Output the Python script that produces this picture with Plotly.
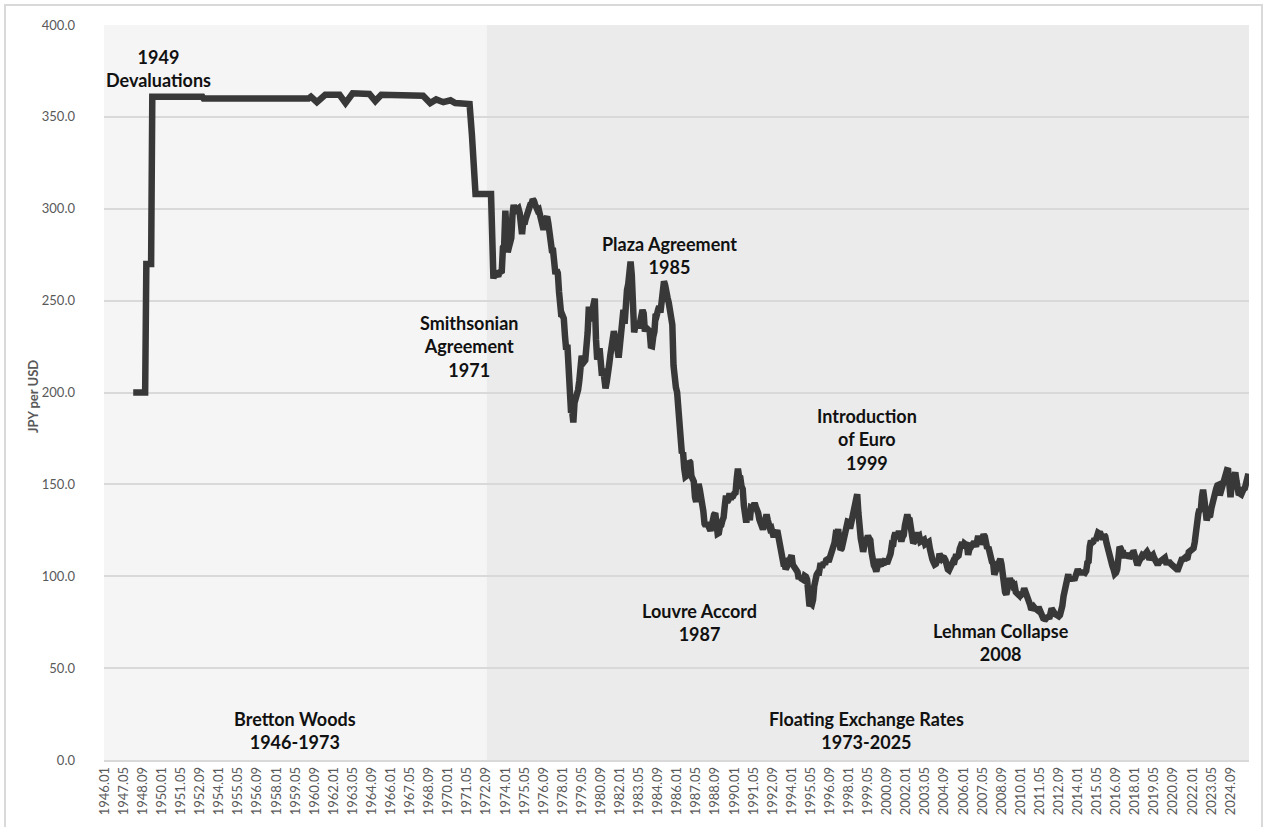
import plotly.graph_objects as go

# ---------------- categories (monthly) ----------------
END_LABEL = "2025.12"
months = []
for yr in range(1946, 2026):
    for mo in range(1, 13):
        months.append(f"{yr}.{mo:02d}")
months = months[: months.index(END_LABEL) + 1]
tick_labels = months[::16]

# ---------------- Bretton Woods era (step points) ----------------
bw_dates = ["1948.01", "1948.11", "1948.12", "1949.04", "1949.05", "1952.11", "1952.12",
            "1960.04", "1960.06", "1960.11", "1961.06", "1962.06", "1962.11", "1963.05",
            "1964.07", "1964.12", "1965.05", "1966.09", "1967.08", "1968.04", "1968.10",
            "1969.03", "1969.09", "1970.03", "1970.07", "1971.06", "1971.07", "1971.09",
            "1971.11", "1971.12", "1973.01"]
bw_values = [200, 200, 270, 270, 361, 361, 360,
             360, 361, 358, 362, 362, 357.5, 362.8,
             362.5, 358.6, 362, 361.5, 362, 361.5, 357.5,
             359.5, 358, 359, 357.5, 356.5, 357, 340,
             320, 308, 308]

# ---------------- Floating era (monthly, from 1973.02) ----------------
fx_1970s = [265, 262, 265.6, 264.4, 264.9, 263.3, 265.3, 265.5, 266.1, 279.0, 280.0,
            299.0, 287.6, 276.3, 279.0, 281.5, 284.1, 297.0, 302.1, 298.6, 299.6, 299.8, 300.2,
            297.8, 286.9, 286.2, 292.9, 291.6, 294.3, 296.6, 297.9, 301.9, 302.3, 302.7, 305.2,
            304.3, 302.2, 299.7, 299.2, 299.6, 297.3, 293.4, 291.9, 288.5, 293.3, 295.7, 295.7,
            292.3, 285.4, 281.2, 277.4, 277.3, 272.0, 264.4, 266.7, 264.9, 254.8, 244.4, 241.2,
            241.9, 240.3, 230.7, 223.3, 226.0, 210.6, 196.6, 190.2, 189.9, 183.7, 194.4, 196.1,
            197.6, 201.5, 206.3, 217.4, 219.9, 218.3, 216.7, 217.5, 223.2, 232.6, 246.7, 238.8]
fx_1980s = [241.9, 244.1, 248.6, 251.1, 228.9, 217.9, 220.0, 224.0, 214.9, 209.2, 213.0, 209.8,
            202.2, 205.7, 208.8, 215.0, 220.2, 224.0, 232.5, 233.4, 229.6, 231.4, 223.5, 219.0,
            225.3, 234.4, 240.9, 245.0, 237.4, 251.3, 255.8, 258.9, 262.7, 271.2, 264.1, 242.5,
            232.7, 236.3, 238.5, 237.6, 235.0, 240.0, 240.5, 244.9, 243.0, 233.2, 235.3, 234.7,
            233.9, 233.4, 225.4, 225.2, 230.3, 233.2, 242.7, 242.2, 244.8, 246.9, 243.5, 247.9,
            254.2, 260.5, 258.4, 251.7, 251.6, 248.9, 241.7, 237.2, 236.9, 214.7, 204.1, 202.8,
            200.1, 184.9, 178.7, 175.1, 167.0, 167.5, 158.6, 154.2, 154.7, 156.5, 162.7, 162.0,
            154.5, 153.5, 151.6, 143.0, 140.5, 144.5, 150.3, 147.3, 143.3, 143.3, 135.4, 128.6,
            127.4, 129.1, 127.2, 124.9, 124.8, 127.5, 133.1, 133.5, 134.4, 129.0, 123.2, 123.6,
            127.2, 127.8, 130.4, 132.0, 138.4, 143.9, 140.4, 141.5, 145.1, 141.9, 143.5, 143.7]
fx_1990s = [145.1, 145.5, 153.2, 158.5, 154.0, 153.7, 149.0, 147.5, 138.4, 129.6, 129.2, 133.9,
            133.7, 130.5, 137.4, 137.1, 138.2, 139.8, 137.8, 136.8, 134.3, 130.8, 129.6, 128.0,
            125.5, 128.0, 132.7, 133.6, 130.6, 126.8, 125.8, 126.2, 122.6, 121.2, 123.9, 123.9,
            125.0, 120.8, 117.0, 112.4, 110.3, 107.4, 107.7, 103.8, 105.1, 106.9, 107.9, 109.9,
            111.4, 106.3, 105.1, 103.5, 103.8, 102.3, 98.6, 99.9, 98.8, 98.4, 98.0, 100.2,
            99.8, 98.2, 90.8, 83.7, 85.1, 84.6, 87.2, 94.7, 100.6, 100.8, 101.9, 101.9,
            105.8, 105.8, 105.9, 107.4, 106.5, 108.8, 109.2, 107.9, 109.9, 112.4, 112.3, 113.9,
            118.2, 123.0, 122.7, 125.6, 119.2, 114.3, 115.1, 117.9, 120.9, 121.1, 125.4, 129.7,
            129.5, 125.9, 129.0, 131.8, 135.0, 140.3, 140.7, 144.7, 134.5, 121.1, 120.5, 117.2,
            113.3, 116.7, 119.5, 119.8, 122.0, 120.7, 119.7, 113.2, 106.9, 105.9, 104.7, 102.6]
fx_2000s = [105.2, 109.4, 106.3, 105.6, 108.3, 106.1, 108.2, 108.1, 106.8, 108.4, 109.0, 112.2,
            116.7, 116.2, 121.5, 123.8, 121.8, 122.3, 124.6, 121.5, 118.9, 121.3, 122.4, 127.6,
            132.7, 133.6, 131.1, 130.8, 126.4, 123.3, 118.0, 119.0, 120.5, 123.9, 121.4, 121.9,
            118.8, 119.3, 118.7, 119.9, 117.4, 118.3, 118.7, 118.7, 114.8, 109.5, 109.2, 107.7,
            106.3, 106.7, 108.5, 107.7, 112.2, 109.4, 109.5, 110.2, 110.0, 108.8, 104.7, 103.8,
            103.3, 104.9, 105.3, 107.4, 106.6, 108.8, 111.9, 110.6, 111.2, 114.9, 118.5, 118.5,
            115.3, 117.8, 117.3, 117.1, 111.7, 114.5, 115.7, 115.9, 117.2, 118.6, 117.3, 117.4,
            120.5, 120.5, 117.3, 118.8, 120.8, 122.6, 121.6, 116.7, 115.0, 115.9, 111.1, 112.4,
            107.8, 107.1, 100.8, 102.7, 104.4, 106.9, 106.9, 109.4, 106.5, 100.0, 96.9, 91.3,
            90.1, 92.9, 97.9, 98.9, 96.7, 96.6, 94.5, 94.9, 91.4, 90.3, 89.3, 89.5]
fx_2010s = [91.1, 90.1, 90.7, 93.4, 91.8, 90.9, 87.6, 85.4, 84.4, 81.8, 82.5, 83.4,
            82.6, 82.5, 81.6, 83.2, 81.2, 80.5, 79.3, 77.1, 76.8, 76.7, 77.5, 77.8,
            76.9, 78.5, 82.4, 81.4, 79.7, 79.3, 79.0, 78.7, 78.2, 78.9, 80.9, 83.9,
            89.1, 93.1, 94.8, 97.7, 101.1, 97.3, 99.7, 97.8, 99.2, 97.8, 100.1, 103.5,
            103.8, 102.1, 102.3, 102.5, 101.8, 102.1, 101.8, 102.9, 107.4, 108.0, 116.2, 119.4,
            118.3, 118.8, 120.4, 119.5, 120.8, 123.7, 123.3, 123.2, 120.1, 120.1, 122.6, 121.6,
            118.2, 115.0, 112.9, 109.6, 108.9, 105.5, 103.7, 101.3, 101.9, 103.8, 108.5, 116.0,
            115.0, 113.0, 112.9, 110.0, 112.3, 110.9, 112.5, 109.8, 110.8, 112.9, 112.8, 112.9,
            110.9, 107.8, 106.0, 107.6, 109.7, 110.1, 111.5, 111.0, 111.9, 112.8, 113.3, 112.1,
            108.9, 110.4, 111.2, 111.6, 109.9, 108.0, 108.3, 106.2, 107.5, 108.2, 108.8, 109.1]
fx_2020s = [109.3, 110.0, 107.6, 107.7, 107.2, 107.5, 106.7, 106.0, 105.6, 105.2, 104.4, 103.8,
            103.8, 105.4, 108.6, 109.0, 109.1, 110.1, 110.2, 109.8, 110.1, 113.1, 114.0, 113.8,
            114.8, 115.2, 118.5, 126.3, 128.8, 134.0, 136.6, 135.2, 143.1, 147.1, 142.3, 135.4,
            130.4, 132.7, 133.5, 133.2, 137.1, 141.1, 141.3, 144.8, 147.7, 149.5, 149.8, 144.0,
            146.5, 149.6, 149.7, 153.6, 155.9, 157.7, 157.5, 146.3, 143.0, 149.7, 153.7, 153.7,
            156.5, 151.9, 149.1, 144.2, 144.9, 144.5, 146.9, 147.5, 147.9, 151.5, 155.1, 155.8]

float_values = fx_1970s + fx_1980s + fx_1990s + fx_2000s + fx_2010s + fx_2020s
float_start = months.index("1973.02")
float_dates = months[float_start: float_start + len(float_values)]

x_all = bw_dates + float_dates
y_all = bw_values + float_values

# ---------------- periods (background bands) ----------------
period_names = ["Bretton Woods<br>1946-1973", "Floating Exchange Rates<br>1973-2025"]
period_first = ["1946.01", "1972.10"]
period_last = ["1972.09", END_LABEL]
period_colors = ["#f5f5f5", "#ebebeb"]

# ---------------- text annotations ----------------
event_texts = ["1949<br>Devaluations", "Smithsonian<br>Agreement<br>1971", "Plaza Agreement<br>1985",
               "Louvre Accord<br>1987", "Introduction<br>of Euro<br>1999", "Lehman Collapse<br>2008"]
# centre of each text block in page pixels
event_px = [(158, 69), (469, 346), (669, 255), (700, 622), (867, 439), (1001, 642)]
period_px = [(295, 730), (866, 730)]

# ---------------- geometry ----------------
FIG_W, FIG_H = 1264, 827
ML, MT = 104, 25
PLOT_W, PLOT_H = 1145, 735
MR, MB = FIG_W - ML - PLOT_W, FIG_H - MT - PLOT_H


def paper(xp, yp):
    return (xp - ML) / PLOT_W, (MT + PLOT_H - yp) / PLOT_H


FONT = "Lato, 'Open Sans', Arial, sans-serif"

fig = go.Figure()
fig.add_trace(go.Scatter(
    x=x_all, y=y_all, mode="lines",
    line=dict(color="#383838", width=6.5),
    hoverinfo="x+y", showlegend=False,
))

shapes = []
for first, last, col in zip(period_first, period_last, period_colors):
    shapes.append(dict(type="rect", xref="x", yref="y",
                       x0=months.index(first) - 0.5, x1=months.index(last) + 0.5,
                       y0=0, y1=400, fillcolor=col, line=dict(width=0), layer="below"))
# outer chart border
bx0, by0 = paper(5, 880)
bx1, by1 = paper(1262, 5)
shapes.append(dict(type="rect", xref="paper", yref="paper", x0=bx0, x1=bx1, y0=by0, y1=by1,
                   line=dict(color="#d9d9d9", width=2), fillcolor="rgba(0,0,0,0)", layer="below"))

annotations = []
for txt, (xp, yp) in zip(event_texts + period_names, event_px + period_px):
    ax, ay = paper(xp, yp)
    annotations.append(dict(text=f"<b>{txt}</b>", x=ax, y=ay, xref="paper", yref="paper",
                            showarrow=False, xanchor="center", yanchor="middle", align="center",
                            font=dict(family=FONT, size=18, color="#111111")))
tx, ty = paper(33, 397)
annotations.append(dict(text="<b>JPY per USD</b>", x=tx, y=ty, xref="paper", yref="paper",
                        showarrow=False, textangle=-90, xanchor="center", yanchor="middle",
                        font=dict(family=FONT, size=13, color="#595959")))

fig.update_layout(
    width=FIG_W, height=FIG_H,
    margin=dict(l=ML, r=MR, t=MT, b=MB, pad=0),
    paper_bgcolor="white", plot_bgcolor="white",
    font=dict(family=FONT),
    shapes=shapes, annotations=annotations,
    xaxis=dict(type="category", categoryorder="array", categoryarray=months,
               range=[-0.5, len(months) - 0.5],
               tickmode="array", tickvals=tick_labels, ticktext=tick_labels,
               tickangle=-90, showgrid=False, zeroline=False,
               showline=True, linecolor="#d9d9d9", linewidth=1.5,
               ticks="", tickfont=dict(family=FONT, size=13, color="#595959")),
    yaxis=dict(range=[0, 400], tickmode="linear", tick0=0, dtick=50, tickformat=".1f",
               showgrid=True, gridcolor="#d9d9d9", gridwidth=1.5, zeroline=False,
               showline=False, ticks="", ticklabelstandoff=28,
               tickfont=dict(family=FONT, size=13, color="#595959")),
)

fig.write_html("out.html", config={"displayModeBar": False},
               post_script="document.body.style.margin='0px';document.body.style.overflow='hidden';")
